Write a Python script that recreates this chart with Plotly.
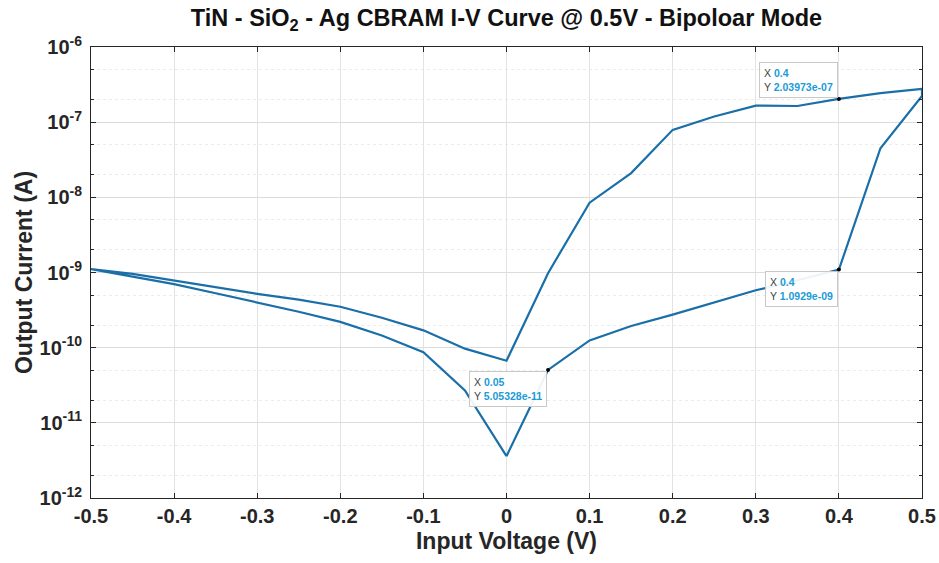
import numpy as np
import plotly.graph_objects as go

# Sweep order: 0 -> 0.5 (HRS), 0.5 -> 0 (LRS), 0 -> -0.5, -0.5 -> 0
voltage = [0.0, 0.05, 0.1, 0.15, 0.2, 0.25, 0.3, 0.35, 0.4, 0.45, 0.5,
           0.5, 0.45, 0.4, 0.35, 0.3, 0.25, 0.2, 0.15, 0.1, 0.05, 0.0,
           -0.05, -0.1, -0.15, -0.2, -0.25, -0.3, -0.35, -0.4, -0.45, -0.5,
           -0.45, -0.4, -0.35, -0.3, -0.25, -0.2, -0.15, -0.1, -0.05, 0.0]
current = [3.6e-12, 5.05328e-11, 1.25e-10, 1.94e-10, 2.75e-10, 4.0e-10, 5.8e-10, 7.9e-10, 1.0929e-9, 4.5e-8, 2.23e-7,
           2.78e-7, 2.44e-7, 2.03973e-7, 1.64e-7, 1.66e-7, 1.19e-7, 7.9e-8, 2.1e-8, 8.5e-9, 9.8e-10, 6.7e-11,
           9.7e-11, 1.7e-10, 2.5e-10, 3.5e-10, 4.35e-10, 5.2e-10, 6.4e-10, 7.9e-10, 9.6e-10, 1.11e-9,
           8.8e-10, 7.0e-10, 5.3e-10, 4.0e-10, 3.0e-10, 2.2e-10, 1.45e-10, 8.7e-11, 2.7e-11, 3.6e-12]

tip_x = [0.4, 0.4, 0.05]
tip_y = [2.03973e-07, 1.0929e-09, 5.05328e-11]
tip_xlabel = ["0.4", "0.4", "0.05"]
tip_ylabel = ["2.03973e-07", "1.0929e-09", "5.05328e-11"]
tip_anchor = ["bottom", "top", "top"]

x_ticks = [-0.5, -0.4, -0.3, -0.2, -0.1, 0, 0.1, 0.2, 0.3, 0.4, 0.5]
x_ticktext = ["-0.5", "-0.4", "-0.3", "-0.2", "-0.1", "0", "0.1", "0.2", "0.3", "0.4", "0.5"]
y_exps = [-12, -11, -10, -9, -8, -7, -6]

LINE = "#1a6fa8"
FONT = "Liberation Sans, Arial, sans-serif"

fig = go.Figure()
fig.add_trace(go.Scatter(x=voltage, y=current, mode="lines",
                         line=dict(color=LINE, width=2.2), showlegend=False,
                         hoverinfo="skip"))
fig.add_trace(go.Scatter(x=tip_x, y=tip_y, mode="markers",
                         marker=dict(color="black", size=4), showlegend=False,
                         hoverinfo="skip"))

for xv, yv, xl, yl, anc in zip(tip_x, tip_y, tip_xlabel, tip_ylabel, tip_anchor):
    txt = (f"<span style='color:#404040'>X</span> <b><span style='color:#1b9bd7'>{xl}</span></b><br>"
           f"<span style='color:#404040'>Y</span> <b><span style='color:#1b9bd7'>{yl}</span></b>")
    fig.add_annotation(x=xv, y=np.log10(yv), xref="x", yref="y", text=txt,
                       showarrow=False, xanchor="right", yanchor=anc, align="left",
                       xshift=-1, yshift=1 if anc == "bottom" else -1,
                       bgcolor="rgba(255,255,255,0.92)", bordercolor="#c8c8c8",
                       borderwidth=1, borderpad=4,
                       font=dict(family=FONT, size=10.5, color="#404040"))

fig.update_layout(
    width=939, height=563,
    margin=dict(l=91, r=17, t=47, b=65),
    paper_bgcolor="white", plot_bgcolor="white",
    font=dict(family=FONT, color="#262626"),
    title=dict(text="<b>TiN - SiO<sub>2</sub> - Ag CBRAM I-V Curve @ 0.5V - Bipoloar Mode</b>",
               x=0.5, xref="paper", xanchor="center", y=1 - 18 / 563, yref="container",
               yanchor="middle", font=dict(family=FONT, size=23.5, color="#111111")),
)

fig.update_xaxes(
    range=[-0.5, 0.5], tickvals=x_ticks, automargin=False,
    ticktext=[f"<b>{t}</b>" for t in x_ticktext],
    tickfont=dict(family=FONT, size=20, color="#262626"),
    showgrid=True, gridcolor="#e3e3e3", gridwidth=1,
    zeroline=False, showline=True, linecolor="#262626", linewidth=1,
    mirror="allticks", ticks="inside", ticklen=5, tickcolor="#262626",
    title=dict(text="<b>Input Voltage (V)</b>", font=dict(family=FONT, size=23, color="#262626"),
               standoff=6),
)
fig.update_yaxes(
    type="log", range=[-12, -6], automargin=False,
    tickvals=[10.0 ** e for e in y_exps],
    ticktext=[f"<b>10<sup>{e}</sup></b>" for e in y_exps],
    tickfont=dict(family=FONT, size=20, color="#262626"),
    ticklabelstandoff=4,
    showgrid=True, gridcolor="#dcdcdc", gridwidth=1,
    zeroline=False, showline=True, linecolor="#262626", linewidth=1,
    mirror="allticks", ticks="inside", ticklen=5, tickcolor="#262626",
    minor=dict(ticks="inside", ticklen=3, tickcolor="#262626", showgrid=True,
               gridcolor="#ececec", griddash="dot", gridwidth=1),
    title=dict(text="<b>Output Current (A)</b>", font=dict(family=FONT, size=23, color="#262626"),
               standoff=0),
)

fig.write_html("out.html")
